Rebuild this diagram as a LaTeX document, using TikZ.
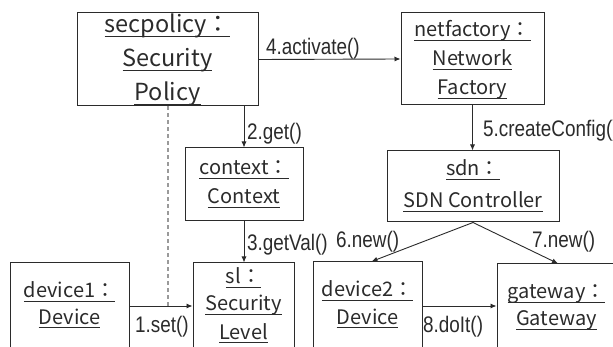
\documentclass[tikz,border=0pt]{standalone}
\usepackage{fontspec}
\usetikzlibrary{arrows.meta,calc}
\newfontfamily\objfont{Noto Sans CJK JP}
\newfontfamily\lblfont[FakeStretch=0.84]{Liberation Sans}
% underlined line of an object name
\newcommand\uln[1]{\setbox0\hbox{#1}\rlap{\rule[-4.3pt]{\wd0}{1.5pt}}\box0}
\definecolor{ink}{HTML}{2B2B2B}
\definecolor{dashgray}{HTML}{9A9A9A}
\tikzset{
  objbox/.style={draw=ink, line width=1pt, inner sep=0pt, rectangle},
  objtext/.style={anchor=base, inner sep=0pt, text=ink, align=center},
  msg/.style={draw=ink, line width=0.9pt, -{Latex[length=6pt,width=5pt]}},
  msglabel/.style={anchor=base west, inner sep=0pt, text=ink, font=\lblfont\fontsize{22.5}{26}\selectfont},
  linkdash/.style={draw=dashgray, line width=1.2pt, dash pattern=on 4pt off 3pt}
}
\begin{document}
\begin{tikzpicture}[x=1pt,y=-1pt]
\useasboundingbox (0,0) rectangle (613,347);
\clip (0,0) rectangle (613,347);
\fill[white] (0,0) rectangle (613,347);

% object boxes
\node[objbox, minimum width=181pt, minimum height=93pt] (sp) at (167.5,59.5) {};
\node[objbox, minimum width=143pt, minimum height=92pt] (nf) at (472.5,59) {};
\node[objbox, minimum width=118pt, minimum height=73pt] (ctx) at (244,184.5) {};
\node[objbox, minimum width=172pt, minimum height=71pt] (sdn) at (473,186.5) {};
\node[objbox, minimum width=119pt, minimum height=117pt] (d1) at (69.5,321.5) {};
\node[objbox, minimum width=101pt, minimum height=117pt] (sl) at (243.5,321.5) {};
\node[objbox, minimum width=109pt, minimum height=118pt] (d2) at (367.5,321) {};
\node[objbox, minimum width=119pt, minimum height=116pt] (gw) at (556.5,322) {};

% object names
\begin{scope}[font=\objfont\fontsize{23.5}{34}\selectfont]
\node[objtext] (sp1) at (167.5,33) {\uln{secpolicy：}};
\node[objtext] (sp2) at (167.5,67) {\uln{Security}};
\node[objtext] (sp3) at (167.5,101) {\uln{Policy}};
\end{scope}
\begin{scope}[font=\objfont\fontsize{20}{29}\selectfont]
\node[objtext] (nf1) at (472.5,37) {\uln{netfactory：}};
\node[objtext] (nf2) at (472.5,66) {\uln{Network}};
\node[objtext] (nf3) at (472.5,95) {\uln{Factory}};
\node[objtext] (ctx1) at (244,175) {\uln{context：}};
\node[objtext] (ctx2) at (244,204) {\uln{Context}};
\node[objtext] (sdn1) at (473,176) {\uln{sdn：}};
\node[objtext] (sdn2) at (473,208) {\uln{SDN Controller}};
\node[objtext] (sl1) at (243.5,284) {\uln{sl：}};
\node[objtext] (sl2) at (243.5,311) {\uln{Security}};
\node[objtext] (sl3) at (243.5,339) {\uln{Level}};
\node[objtext] (d11) at (69.5,298) {\uln{device1：}};
\node[objtext] (d12) at (69.5,324) {\uln{Device}};
\node[objtext] (d21) at (367.5,297) {\uln{device2：}};
\node[objtext] (d22) at (367.5,324) {\uln{Device}};
\node[objtext] (gw1) at (556.5,299) {\uln{gateway：}};
\node[objtext] (gw2) at (556.5,326) {\uln{Gateway}};
\end{scope}

% meeting points of the horizontal messages
\coordinate (setpt) at (168,306);
\coordinate (doitpt) at (460,306);

% dashed link from the policy down to the set() message
\draw[linkdash] (sp.south -| setpt) -- (setpt);

% messages
\draw[msg] (sp.east) -- (nf.west);
\draw[msg] (sp.south -| ctx.north) -- (ctx.north);
\draw[msg] (ctx.south) -- (ctx.south |- sl.north);
\draw[msg] (nf.south) -- (nf.south |- sdn.north);
\draw[msg] (sdn.south) -- ([xshift=4pt]d2.north);
\draw[msg] (sdn.south) -- ([xshift=1.5pt]gw.north);
\draw[msg] (d1.east |- setpt) -- (sl.west |- setpt);
\draw[msg] (d2.east |- doitpt) -- (gw.west |- doitpt);

% message labels
\node[msglabel] (l4) at (266,55) {4.activate()};
\node[msglabel] (l2) at (247,140) {2.get()};
\node[msglabel] (l3) at (247,251) {3.getVal()};
\node[msglabel] (l5) at (483,137) {5.createConfig()};
\node[msglabel] (l6) at (336,248) {6.new()};
\node[msglabel] (l7) at (532,248) {7.new()};
\node[msglabel] (l1) at (135,333) {1.set()};
\node[msglabel] (l8) at (423,333) {8.doIt()};
\end{tikzpicture}
\end{document}
